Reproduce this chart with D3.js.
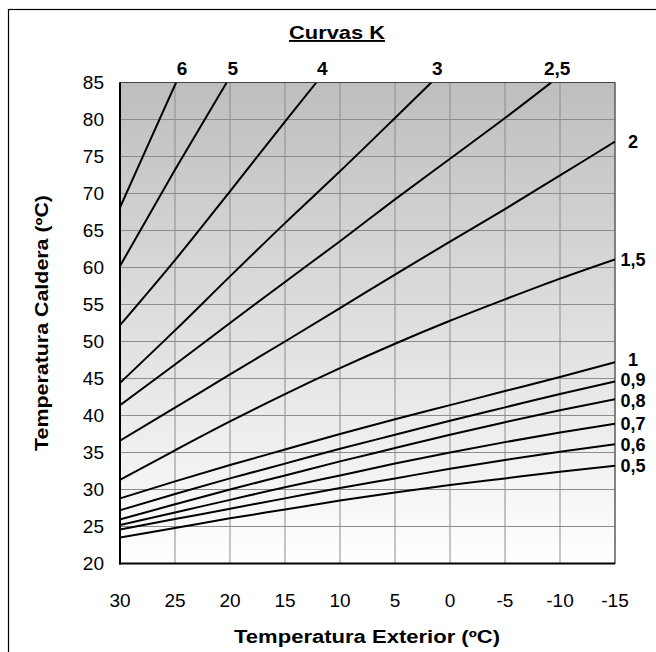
<!DOCTYPE html>
<html><head><meta charset="utf-8">
<script src="https://cdn.jsdelivr.net/npm/d3@7"></script>
<style>
html,body{margin:0;padding:0;background:#fff;}
svg{display:block;font-family:"Liberation Sans",Arial,sans-serif;}
</style></head>
<body><svg id="c" width="656" height="652"></svg>
<script>
// ---- data ----
const chartTitle = "Curvas K";
const xTitle = "Temperatura Exterior (ºC)";
const yTitle = "Temperatura Caldera (ºC)";
const xTicks = [30,25,20,15,10,5,0,-5,-10,-15];
const yTicks = [20,25,30,35,40,45,50,55,60,65,70,75,80,85];
const curveNames = ["6","5","4","3","2,5","2","1,5","1","0,9","0,8","0,7","0,6","0,5"];
const k6  = [[30,68.1],[27.5,76.4],[24.9,85]];
const k5  = [[30,60.2],[25,73.2],[20.3,85]];
const k4  = [[30,52.2],[25,61.0],[20,70.3],[15,79.7],[12.15,85]];
const k3  = [[30,44.4],[25,51.5],[20,58.8],[15,66.0],[10,73.0],[5,80.2],[1.7,85]];
const k25 = [[30,41.4],[25,46.9],[20,52.5],[15,58.05],[10,63.55],[5,69.2],[0,74.7],[-5,80.2],[-9.2,85]];
const k2  = [[30,36.6],[25,41.05],[20,45.55],[15,50.0],[10,54.5],[5,59.05],[0,63.5],[-5,67.9],[-10,72.45],[-15,77.0]];
const k15 = [[30,31.3],[25,35.3],[20,39.2],[15,42.9],[10,46.4],[5,49.7],[0,52.8],[-5,55.7],[-10,58.5],[-15,61.1]];
const k1  = [[30,28.8],[25,31.1],[20,33.3],[15,35.4],[10,37.5],[5,39.5],[0,41.4],[-5,43.3],[-10,45.2],[-15,47.2]];
const k09 = [[30,27.2],[25,29.4],[20,31.5],[15,33.5],[10,35.5],[5,37.4],[0,39.3],[-5,41.1],[-10,42.9],[-15,44.6]];
const k08 = [[30,25.95],[25,28.0],[20,30.0],[15,31.9],[10,33.8],[5,35.6],[0,37.4],[-5,39.1],[-10,40.7],[-15,42.2]];
const k07 = [[30,25.2],[25,26.9],[20,28.6],[15,30.3],[10,31.9],[5,33.5],[0,35.0],[-5,36.4],[-10,37.7],[-15,38.9]];
const k06 = [[30,24.6],[25,26.0],[20,27.4],[15,28.8],[10,30.2],[5,31.5],[0,32.8],[-5,34.0],[-10,35.1],[-15,36.1]];
const k05 = [[30,23.5],[25,24.8],[20,26.1],[15,27.3],[10,28.5],[5,29.6],[0,30.6],[-5,31.5],[-10,32.4],[-15,33.2]];
const curves = [k6,k5,k4,k3,k25,k2,k15,k1,k09,k08,k07,k06,k05];

// ---- layout (pixel nudges for crowded right-hand labels) ----
const labelNudge = [0,0,0,0,0,0,0,-3,-1.5,1.5,0,0,0];
const L=120, R=615, T=82.5, B=563.5;
const svg = d3.select("#c");
const x = d3.scaleLinear().domain([30,-15]).range([L,R]);
const y = d3.scaleLinear().domain([20,85]).range([B,T]);

// outer frame
svg.append("rect").attr("x",8.5).attr("y",9.5).attr("width",700).attr("height",700)
  .attr("fill","none").attr("stroke","#000").attr("stroke-width",1.2);

// gradient
const defs = svg.append("defs");
const g = defs.append("linearGradient").attr("id","bg").attr("x1",0).attr("y1",0).attr("x2",0).attr("y2",1);
g.append("stop").attr("offset","0%").attr("stop-color","#bebebe");
g.append("stop").attr("offset","100%").attr("stop-color","#ffffff");
defs.append("clipPath").attr("id","clip").append("rect")
  .attr("x",L).attr("y",T).attr("width",R-L).attr("height",B-T);

svg.append("rect").attr("x",L).attr("y",T).attr("width",R-L).attr("height",B-T).attr("fill","url(#bg)");

// grid
svg.append("g").selectAll("line").data(xTicks).join("line")
  .attr("x1",d=>x(d)).attr("x2",d=>x(d)).attr("y1",T).attr("y2",B)
  .attr("stroke","#8c8c8c").attr("stroke-width",1);
svg.append("g").selectAll("line").data(yTicks).join("line")
  .attr("x1",L).attr("x2",R).attr("y1",d=>y(d)).attr("y2",d=>y(d))
  .attr("stroke","#8c8c8c").attr("stroke-width",1);

// plot border
svg.append("rect").attr("x",L).attr("y",T).attr("width",R-L).attr("height",B-T)
  .attr("fill","none").attr("stroke","#444").attr("stroke-width",1);
svg.append("line").attr("x1",L).attr("x2",L).attr("y1",T).attr("y2",B+1).attr("stroke","#000").attr("stroke-width",2);
svg.append("line").attr("x1",L-1).attr("x2",R).attr("y1",B).attr("y2",B).attr("stroke","#000").attr("stroke-width",2);

// curves
const line = d3.line().x(d=>x(d[0])).y(d=>y(d[1])).curve(d3.curveMonotoneX);
svg.append("g").attr("clip-path","url(#clip)").selectAll("path").data(curves).join("path")
  .attr("d",line).attr("fill","none").attr("stroke","#000").attr("stroke-width",2);

// curve labels
const lab = svg.append("g").attr("font-weight","bold");
curves.forEach((c,i)=>{
  const e = c[c.length-1];
  if (e[1] >= 85) {
    lab.append("text").attr("font-size",19).attr("x",x(e[0])+6).attr("y",T-8).attr("text-anchor","middle").text(curveNames[i]);
  } else {
    lab.append("text").attr("font-size",18).attr("x",R+18).attr("y",y(e[1])+labelNudge[i]).attr("dy","0.36em")
      .attr("text-anchor","middle").text(curveNames[i]);
  }
});

// axes tick labels
svg.append("g").selectAll("text").data(xTicks).join("text")
  .attr("x",d=>x(d)).attr("y",B+43).attr("text-anchor","middle").attr("font-size",19).text(d=>d);
svg.append("g").selectAll("text").data(yTicks).join("text")
  .attr("x",L-16).attr("y",d=>y(d)).attr("dy","0.36em").attr("text-anchor","end").attr("font-size",19).text(d=>d);

// titles
svg.append("text").attr("x",337).attr("y",39).attr("text-anchor","middle").attr("font-size",19)
  .attr("font-weight","bold").attr("text-decoration","underline")
  .attr("textLength",96).attr("lengthAdjust","spacingAndGlyphs").text(chartTitle);
svg.append("text").attr("x",367).attr("y",643).attr("text-anchor","middle").attr("font-size",18)
  .attr("font-weight","bold").attr("textLength",266).attr("lengthAdjust","spacingAndGlyphs").text(xTitle);
svg.append("text").attr("transform","translate(48,323) rotate(-90)").attr("text-anchor","middle").attr("font-size",18)
  .attr("font-weight","bold").attr("textLength",256).attr("lengthAdjust","spacingAndGlyphs").text(yTitle);
</script></body></html>
